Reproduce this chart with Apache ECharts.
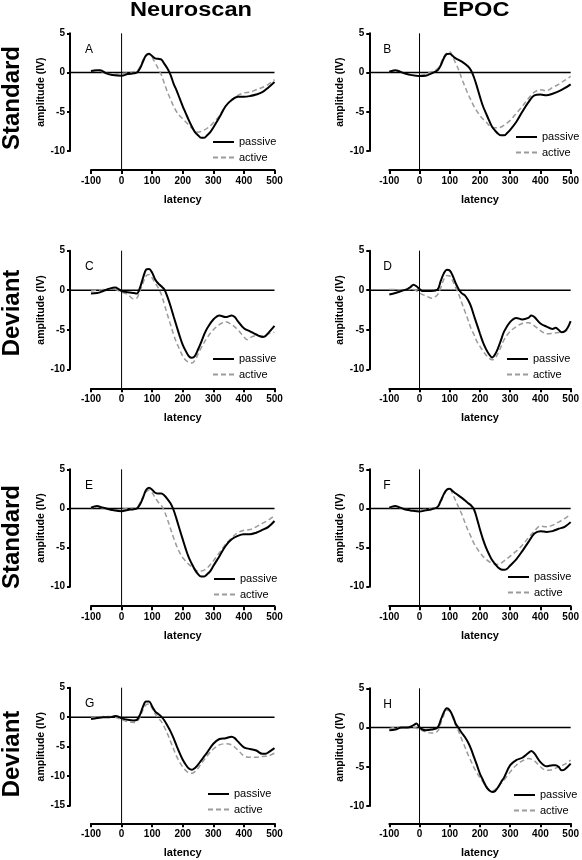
<!DOCTYPE html>
<html><head><meta charset="utf-8">
<script src="https://cdn.jsdelivr.net/npm/echarts@6/dist/echarts.min.js"></script>
<style>html,body{margin:0;padding:0;background:#fff}#c{width:582px;height:860px}</style>
</head><body><div id="c"></div>
<script>
const columnTitles = ['Neuroscan', 'EPOC'];
const rowTitles = ['Standard', 'Deviant', 'Standard', 'Deviant'];
const panelLetters = ['A', 'B', 'C', 'D', 'E', 'F', 'G', 'H'];
const seriesNames = ['passive', 'active'];
const xAxisName = 'latency';
const yAxisName = 'amplitude (IV)';
const xMin = -100, xMax = 500, xStep = 100;
const yMax = 5, yStep = 5;
const yMins = [-10, -10, -10, -10, -10, -10, -15, -10];

// [latency, amplitude]
const passiveA = [[-100,0.2],[-80,0.3],[-70,0.3],[-50,-0.1],[-30,-0.3],[0,-0.4],[20,-0.2],[40,-0.1],[50,0],[60,0.5],[70,1.4],[80,2.2],[90,2.4],[100,2.1],[110,1.8],[120,1.75],[130,1.65],[140,1.1],[150,0.5],[160,-0.3],[170,-1.4],[180,-2.3],[190,-3.3],[200,-4.3],[210,-5.2],[220,-6.1],[230,-6.9],[240,-7.6],[250,-8.0],[260,-8.3],[270,-8.3],[280,-8.0],[290,-7.6],[300,-7.0],[320,-5.7],[340,-4.3],[360,-3.5],[380,-3.1],[400,-3.1],[420,-3.0],[440,-2.8],[460,-2.5],[480,-1.9],[500,-1.2]];
const activeA = [[-100,0.2],[-80,0.3],[-50,-0.1],[-20,-0.2],[0,-0.1],[20,-0.05],[40,0.1],[50,0.2],[60,0.7],[70,1.6],[80,2.1],[90,2.3],[100,1.9],[110,1.2],[120,0.5],[130,-0.3],[140,-1.4],[150,-2.5],[160,-3.4],[170,-4.3],[180,-5.0],[190,-5.5],[200,-5.9],[210,-6.3],[220,-6.7],[230,-7.1],[250,-7.6],[260,-7.5],[280,-7.1],[300,-6.4],[320,-5.5],[340,-4.3],[360,-3.5],[380,-2.9],[400,-2.6],[420,-2.5],[440,-2.2],[460,-1.9],[480,-1.5],[500,-0.9]];

const passiveB = [[-100,0.1],[-80,0.3],[-70,0.2],[-50,-0.1],[-30,-0.3],[0,-0.45],[20,-0.4],[40,-0.1],[60,0.3],[70,0.9],[80,1.8],[90,2.35],[100,2.4],[110,2.1],[120,1.8],[140,1.4],[160,0.8],[170,0.3],[180,-0.6],[190,-1.8],[200,-3.1],[210,-4.3],[220,-5.2],[230,-6.1],[240,-6.9],[250,-7.4],[260,-7.8],[270,-8.0],[280,-8.0],[290,-7.7],[300,-7.3],[320,-6.3],[340,-5.0],[360,-3.8],[380,-2.9],[400,-2.8],[420,-2.9],[440,-2.7],[460,-2.4],[480,-2.0],[500,-1.5]];
const activeB = [[-100,0.1],[-80,0.3],[-50,-0.1],[-20,-0.35],[0,-0.35],[20,-0.2],[40,0.1],[60,0.5],[70,1.15],[80,2.0],[90,2.5],[100,2.65],[110,2.0],[120,1.15],[130,0.3],[140,-0.8],[150,-1.75],[160,-2.7],[170,-3.5],[180,-4.3],[200,-5.5],[220,-6.3],[240,-7.0],[260,-7.05],[280,-6.7],[300,-6.1],[320,-5.2],[340,-4.3],[360,-3.3],[380,-2.5],[400,-2.2],[420,-2.3],[440,-1.9],[460,-1.5],[480,-1.0],[500,-0.5]];

const passiveC = [[-100,-0.4],[-80,-0.35],[-60,-0.1],[-40,0.2],[-20,0.35],[-10,0.15],[0,-0.1],[20,-0.25],[40,-0.35],[50,-0.4],[60,0.3],[70,1.55],[80,2.6],[90,2.7],[100,2.2],[110,1.35],[120,0.85],[130,0.5],[140,0.1],[150,-0.85],[160,-2.0],[170,-3.3],[180,-4.55],[190,-5.8],[200,-6.9],[210,-7.7],[220,-8.35],[230,-8.55],[240,-8.3],[250,-7.5],[260,-6.6],[270,-5.6],[280,-4.8],[300,-3.7],[320,-3.2],[340,-3.4],[360,-3.2],[370,-3.4],[380,-3.9],[400,-4.8],[420,-5.2],[440,-5.6],[460,-5.9],[470,-5.8],[480,-5.4],[500,-4.5]];
const activeC = [[-100,-0.1],[-80,0],[-60,0.1],[-40,0.15],[-20,0.1],[0,-0.25],[20,-0.55],[40,-1.1],[50,-1.0],[60,-0.1],[70,0.9],[80,1.8],[90,2.0],[100,1.55],[110,0.9],[120,0.3],[130,-0.55],[140,-1.8],[150,-3.1],[160,-4.35],[170,-5.6],[180,-6.65],[190,-7.5],[200,-8.35],[210,-8.85],[220,-9.1],[230,-9.2],[240,-8.85],[250,-8.1],[260,-7.3],[280,-6.0],[300,-5.0],[320,-4.35],[340,-4.0],[360,-4.35],[380,-5.0],[400,-5.9],[410,-6.25],[420,-6.0],[440,-5.75],[460,-5.75],[480,-5.5],[500,-5.3]];

const passiveD = [[-100,-0.55],[-80,-0.35],[-60,-0.1],[-40,0.15],[-30,0.4],[-20,0.7],[-10,0.5],[0,0.15],[10,-0.1],[20,-0.1],[40,-0.1],[60,0.1],[70,1.15],[80,2.1],[90,2.6],[100,2.5],[110,1.8],[120,0.85],[130,0.1],[140,-0.4],[150,-0.65],[160,-1.2],[170,-2.0],[180,-3.2],[190,-4.35],[200,-5.5],[210,-6.6],[220,-7.45],[230,-8.1],[240,-8.5],[250,-8.1],[260,-7.3],[270,-6.25],[280,-5.2],[300,-4.0],[320,-3.5],[340,-3.7],[360,-3.5],[370,-3.2],[380,-3.4],[400,-4.2],[420,-4.6],[440,-4.9],[450,-4.75],[460,-5.0],[470,-5.3],[480,-5.2],[490,-4.75],[500,-3.9]];
const activeD = [[-100,0.1],[-80,0.1],[-60,0],[-40,0.1],[-20,0.1],[0,-0.35],[20,-0.7],[40,-1.0],[50,-0.85],[60,-0.55],[70,0.3],[80,1.35],[90,1.85],[100,1.8],[110,1.15],[120,0.3],[130,-0.55],[140,-1.6],[150,-2.65],[160,-3.7],[170,-4.8],[180,-5.6],[190,-6.5],[200,-7.1],[210,-7.7],[220,-8.2],[230,-8.6],[240,-8.8],[250,-8.6],[260,-7.95],[270,-7.1],[280,-6.25],[300,-5.2],[320,-4.6],[340,-4.2],[360,-4.1],[380,-4.5],[400,-5.1],[420,-5.5],[440,-5.45],[460,-5.35],[480,-5.2],[500,-4.9]];

const passiveE = [[-100,0.1],[-80,0.3],[-70,0.2],[-50,0],[-30,-0.2],[0,-0.35],[20,-0.2],[40,-0.1],[50,0],[60,0.5],[70,1.35],[80,2.35],[90,2.65],[100,2.4],[110,2.0],[120,1.9],[130,1.9],[140,1.65],[150,1.2],[160,0.65],[170,-0.2],[180,-1.4],[190,-2.7],[200,-3.95],[210,-5.2],[220,-6.3],[230,-7.1],[240,-7.85],[250,-8.4],[260,-8.7],[270,-8.7],[280,-8.4],[290,-8.0],[300,-7.35],[320,-6.1],[340,-4.8],[360,-3.95],[380,-3.5],[400,-3.3],[420,-3.3],[440,-3.1],[460,-2.75],[480,-2.35],[500,-1.6]];
const activeE = [[-100,0.1],[-80,0.2],[-50,-0.1],[-20,-0.2],[0,-0.1],[20,0],[40,0.05],[50,0.1],[60,0.7],[70,1.5],[80,2.1],[90,2.35],[100,2.0],[110,1.35],[120,0.8],[130,0.4],[140,-0.35],[150,-1.4],[160,-2.6],[170,-3.75],[180,-4.8],[190,-5.65],[200,-6.3],[220,-7.15],[240,-7.8],[250,-8.0],[260,-8.0],[280,-7.6],[300,-6.7],[320,-5.65],[340,-4.6],[360,-3.75],[380,-3.1],[400,-2.8],[420,-2.7],[440,-2.35],[460,-1.9],[480,-1.5],[500,-0.9]];

const passiveF = [[-100,0.1],[-80,0.3],[-70,0.2],[-50,-0.1],[-30,-0.25],[0,-0.4],[20,-0.25],[40,-0.1],[60,0.2],[70,0.95],[80,1.8],[90,2.4],[100,2.5],[110,2.2],[120,1.9],[140,1.35],[160,0.7],[170,0.4],[180,-0.1],[190,-1.3],[200,-2.7],[210,-3.95],[220,-5.0],[230,-5.85],[240,-6.6],[250,-7.1],[260,-7.55],[270,-7.8],[280,-7.85],[290,-7.7],[300,-7.3],[320,-6.5],[340,-5.45],[360,-4.3],[380,-3.2],[400,-2.9],[420,-3.0],[440,-2.9],[460,-2.6],[480,-2.35],[500,-1.75]];
const activeF = [[-100,0.1],[-80,0.2],[-50,-0.1],[-20,-0.2],[0,-0.2],[20,-0.1],[40,0],[60,0.2],[70,0.8],[80,1.65],[90,2.35],[100,2.5],[110,1.8],[120,0.95],[130,0.1],[140,-0.75],[150,-1.8],[160,-2.75],[170,-3.6],[180,-4.45],[200,-5.65],[220,-6.5],[240,-7.0],[260,-7.15],[280,-6.7],[300,-6.1],[320,-5.45],[340,-4.7],[360,-3.75],[380,-2.9],[400,-2.25],[420,-2.35],[440,-2.15],[460,-1.75],[480,-1.3],[500,-0.75]];

const passiveG = [[-100,-0.3],[-80,-0.15],[-60,0],[-40,0],[-20,0.2],[-10,0.1],[0,-0.2],[20,-0.45],[40,-0.55],[50,-0.45],[60,0.4],[70,1.8],[80,2.65],[90,2.65],[100,1.8],[110,0.95],[120,0.55],[130,0.1],[140,-0.55],[150,-1.45],[160,-2.4],[170,-3.55],[180,-4.85],[190,-6.1],[200,-7.2],[210,-8.05],[220,-8.7],[230,-8.9],[240,-8.6],[250,-8.05],[260,-7.35],[270,-6.65],[280,-5.95],[300,-4.5],[320,-3.7],[340,-3.55],[360,-3.3],[370,-3.55],[380,-4.1],[400,-5.1],[420,-5.4],[440,-5.65],[460,-6.2],[470,-6.2],[480,-5.95],[500,-5.25]];
const activeG = [[-100,-0.15],[-80,0],[-60,0.1],[-40,0.1],[-20,0],[0,-0.45],[20,-0.75],[40,-0.9],[50,-0.75],[60,0],[70,1.25],[80,2.1],[90,2.25],[100,1.5],[110,0.55],[120,-0.15],[130,-0.75],[140,-1.7],[150,-2.8],[160,-4.1],[170,-5.4],[180,-6.65],[190,-7.65],[200,-8.45],[210,-9.05],[220,-9.4],[230,-9.5],[240,-9.2],[250,-8.65],[260,-7.9],[280,-6.55],[300,-5.4],[320,-4.7],[340,-4.5],[360,-4.7],[380,-5.55],[400,-6.55],[420,-6.8],[440,-6.8],[460,-6.65],[480,-6.55],[500,-6.1]];

const passiveH = [[-100,-0.35],[-80,-0.25],[-60,0],[-40,0],[-20,0.3],[-10,0.5],[0,0],[10,-0.25],[20,-0.35],[40,-0.25],[60,0],[70,0.95],[80,1.9],[90,2.45],[100,2.2],[110,1.45],[120,0.45],[130,-0.1],[140,-0.7],[150,-1.2],[160,-1.85],[170,-2.7],[180,-3.75],[190,-4.8],[200,-5.9],[210,-6.7],[220,-7.5],[230,-8.0],[240,-8.2],[250,-8.1],[260,-7.6],[270,-6.95],[280,-6.35],[300,-4.8],[320,-4.15],[340,-3.85],[360,-3.25],[370,-3.0],[380,-3.3],[400,-4.4],[420,-4.95],[440,-4.8],[450,-4.8],[460,-5.0],[470,-5.45],[480,-5.35],[500,-4.6]];
const activeH = [[-100,-0.15],[-80,0],[-60,0],[-40,0],[-20,0],[0,-0.25],[20,-0.55],[40,-0.7],[60,-0.45],[70,0.5],[80,1.55],[90,2.2],[100,2.1],[110,1.25],[120,0.3],[130,-0.55],[140,-1.55],[150,-2.45],[160,-3.4],[170,-4.25],[180,-5.1],[190,-5.8],[200,-6.4],[210,-6.95],[220,-7.5],[230,-7.9],[240,-8.1],[250,-7.9],[260,-7.5],[280,-6.7],[300,-5.65],[320,-4.8],[340,-4.25],[360,-3.95],[380,-4.25],[400,-5.0],[420,-5.45],[440,-5.35],[460,-5.0],[480,-4.7],[500,-4.15]];

const passiveData = [passiveA, passiveB, passiveC, passiveD, passiveE, passiveF, passiveG, passiveH];
const activeData = [activeA, activeB, activeC, activeD, activeE, activeF, activeG, activeH];

// layout (pixels)
const layout = [
  {left: 91,    top: 33.3,  width: 183.5, height: 117.7, xOff: 19,   yOff: 21, lgX: 212, lgY: 136},
  {left: 389.3, top: 33.3,  width: 184,   height: 117.7, xOff: 19,   yOff: 20, lgX: 515, lgY: 131},
  {left: 91,    top: 250.7, width: 183.5, height: 118.6, xOff: 19,   yOff: 21, lgX: 212, lgY: 353},
  {left: 389.3, top: 250.7, width: 184,   height: 118.6, xOff: 19,   yOff: 20, lgX: 506, lgY: 353},
  {left: 91,    top: 469.3, width: 183.5, height: 117.4, xOff: 19.5, yOff: 21, lgX: 213, lgY: 573},
  {left: 389.3, top: 469.3, width: 184,   height: 117.4, xOff: 19.5, yOff: 20, lgX: 507, lgY: 571},
  {left: 91,    top: 687.7, width: 183.5, height: 118,   xOff: 17.6, yOff: 21, lgX: 207, lgY: 788},
  {left: 389.3, top: 688.3, width: 184,   height: 117.7, xOff: 17.3, yOff: 20, lgX: 513, lgY: 789}
];

const FONT = 'Liberation Sans, Arial, Helvetica, sans-serif';
const chart = echarts.init(document.getElementById('c'), null, {renderer: 'canvas'});

const grid = [], xAxis = [], yAxis = [], series = [], legend = [];
layout.forEach((L, i) => {
  grid.push({left: L.left, top: L.top, width: L.width, height: L.height, containLabel: false});
  xAxis.push({
    type: 'value', gridIndex: i, min: xMin, max: xMax, interval: xStep,
    offset: L.xOff, position: 'bottom',
    name: xAxisName, nameLocation: 'middle', nameGap: 24,
    nameTextStyle: {fontFamily: FONT, fontWeight: 'bold', fontSize: 11, color: '#000'},
    axisLine: {show: true, onZero: false, lineStyle: {color: '#000', width: 2}},
    axisTick: {show: true, length: 4, lineStyle: {color: '#000', width: 2}},
    axisLabel: {fontFamily: FONT, fontWeight: 'bold', fontSize: 10, color: '#000', margin: 6},
    splitLine: {show: false}
  });
  yAxis.push({
    type: 'value', gridIndex: i, min: yMins[i], max: yMax, interval: yStep,
    offset: L.yOff, position: 'left',
    name: yAxisName, nameLocation: 'middle', nameGap: 21,
    nameTextStyle: {fontFamily: FONT, fontWeight: 'bold', fontSize: 10.5, color: '#000'},
    axisLine: {show: true, onZero: false, lineStyle: {color: '#000', width: 2}},
    axisTick: {show: true, length: 3, lineStyle: {color: '#000', width: 2}},
    axisLabel: {fontFamily: FONT, fontWeight: 'bold', fontSize: 10, color: '#000', margin: 5},
    splitLine: {show: false}
  });
  series.push({
    name: seriesNames[1], type: 'line', xAxisIndex: i, yAxisIndex: i,
    data: activeData[i], smooth: 0.35, symbol: 'none', showSymbol: false,
    lineStyle: {color: '#9b9b9b', width: 1.5, type: [5, 3]}, itemStyle: {color: '#9b9b9b'}, z: 3
  });
  series.push({
    name: seriesNames[0], type: 'line', xAxisIndex: i, yAxisIndex: i,
    data: passiveData[i], smooth: 0.35, symbol: 'none', showSymbol: false,
    lineStyle: {color: '#000', width: 2}, itemStyle: {color: '#000'}, z: 4
  });
  legend.push({
    data: seriesNames, left: L.lgX, top: L.lgY, orient: 'vertical', padding: 0,
    itemWidth: 21, itemHeight: 12, itemGap: 3.5, selectedMode: false,
    itemStyle: {opacity: 0, borderWidth: 0},
    textStyle: {fontFamily: FONT, fontSize: 11, color: '#000', lineHeight: 12}
  });
});

chart.setOption({
  animation: false, backgroundColor: '#fff',
  grid, xAxis, yAxis, series, legend
});

// reference lines, panel letters, titles
const graphic = [];
layout.forEach((L, i) => {
  const p00 = chart.convertToPixel({gridIndex: i}, [0, 0]);
  const pTop = chart.convertToPixel({gridIndex: i}, [0, yMax]);
  const pEnd = chart.convertToPixel({gridIndex: i}, [xMax, 0]);
  const yAxisX = L.left - L.yOff;
  const xAxisY = L.top + L.height + L.xOff;
  graphic.push({type: 'line', silent: true, z: 2,
    shape: {x1: yAxisX, y1: p00[1], x2: pEnd[0], y2: p00[1]},
    style: {stroke: '#000', lineWidth: 1.5}});
  graphic.push({type: 'line', silent: true, z: 2,
    shape: {x1: p00[0], y1: pTop[1], x2: p00[0], y2: xAxisY},
    style: {stroke: '#000', lineWidth: 1}});
  graphic.push({type: 'text', silent: true, z: 5, x: L.left - 6, y: L.top + 16,
    style: {text: panelLetters[i], font: '12px ' + FONT, fill: '#000', textAlign: 'left', textVerticalAlign: 'middle'}});
});
const colCenters = [191, 476];
columnTitles.forEach((t, c) => {
  graphic.push({type: 'text', silent: true, x: colCenters[c], y: 10, scaleX: 1.18,
    style: {text: t, font: 'bold 20px ' + FONT, fill: '#000', textAlign: 'center', textVerticalAlign: 'middle'}});
});
const rowCenters = [98, 313, 537, 754];
rowTitles.forEach((t, r) => {
  graphic.push({type: 'text', silent: true, x: 12, y: rowCenters[r], rotation: Math.PI / 2,
    style: {text: t, font: 'bold 24px ' + FONT, fill: '#000', textAlign: 'center', textVerticalAlign: 'middle'}});
});
chart.setOption({graphic});
</script>
</body></html>
